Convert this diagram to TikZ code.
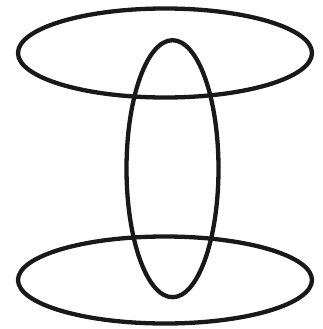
\documentclass[tikz,border=0pt]{standalone}
\begin{document}
\begin{tikzpicture}[x=1pt,y=-1pt,ring/.style={draw=black!90,line width=4.3pt}]
\useasboundingbox (0,0) rectangle (322,329);
\draw[ring] (165,53) ellipse [x radius=147, y radius=44.5];
\draw[ring] (165,280) ellipse [x radius=147, y radius=43.5];
\draw[ring] (172.5,168.7) ellipse [x radius=46, y radius=128.5];
\end{tikzpicture}
\end{document}
